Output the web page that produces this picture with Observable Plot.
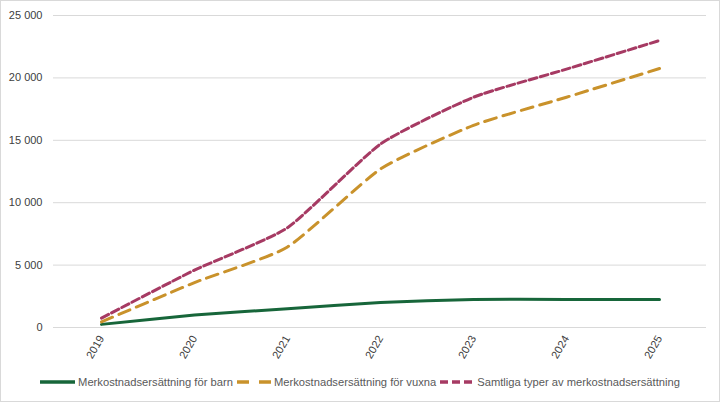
<!DOCTYPE html>
<html>
<head>
<meta charset="utf-8">
<script src="https://cdn.jsdelivr.net/npm/d3@7"></script>
<script src="https://cdn.jsdelivr.net/npm/@observablehq/plot@0.6"></script>
<style>
  html, body { margin: 0; padding: 0; background: #fff; }
  #wrap { position: relative; width: 720px; height: 402px; overflow: hidden; font-family: "Liberation Sans", Arial, sans-serif; }
  #frame { position: absolute; left: 0; top: 0; width: 718px; height: 400px; border: 1px solid #d9d9d9; pointer-events: none; }
  #legend { position: absolute; left: 0; top: 376px; width: 720px; display: flex; justify-content: center; align-items: center; font-size: 11.2px; color: #595959; }
  .item { display: flex; align-items: center; margin: 0 2px; }
  .item svg { margin-right: 3px; }
</style>
</head>
<body>
<div id="wrap">
  <div id="chart"></div>
  <div id="legend"></div>
  <div id="frame"></div>
</div>
<script>
const years = ["2019", "2020", "2021", "2022", "2023", "2024", "2025"];
const barn = [250, 1000, 1500, 2000, 2250, 2250, 2250];
const vuxna = [450, 3600, 6450, 12700, 16200, 18450, 20750];
const samtliga = [750, 4600, 8000, 14700, 18450, 20700, 23000];
const yTicks = [0, 5000, 10000, 15000, 20000, 25000];

const seriesNames = [
  "Merkostnadsersättning för barn",
  "Merkostnadsersättning för vuxna",
  "Samtliga typer av merkostnadsersättning"
];
const seriesValues = [barn, vuxna, samtliga];
const seriesColors = ["#17663a", "#c9922b", "#a63a63"];
const seriesDash = [null, "12,7", "8,3.5"];

const rows = [];
seriesNames.forEach((name, i) => {
  years.forEach((y, j) => rows.push({series: name, year: y, value: seriesValues[i][j]}));
});

const locale = d3.formatLocale({decimal: ",", thousands: "\u00a0", grouping: [3]});
const fmt = locale.format(",d");

const marks = [
  Plot.ruleY(yTicks, {stroke: "#d9d9d9", strokeWidth: 1}),
  Plot.axisY({ticks: yTicks, tickFormat: fmt, tickSize: 0, tickPadding: 11, label: null, fontSize: 11, color: "#404040"}),
  Plot.axisX({tickSize: 0, tickPadding: 9, tickRotate: -60, label: null, fontSize: 11, color: "#404040"})
];
seriesNames.forEach((name, i) => {
  marks.push(Plot.line(rows.filter(d => d.series === name), {
    x: "year", y: "value",
    stroke: seriesColors[i], strokeWidth: 3,
    strokeDasharray: seriesDash[i] || undefined,
    curve: "cardinal", tension: 0.45
  }));
});

const chart = Plot.plot({
  width: 720,
  height: 370,
  marginLeft: 53,
  marginRight: 14,
  marginTop: 15,
  marginBottom: 43,
  style: {fontFamily: "Liberation Sans, Arial, sans-serif", background: "transparent"},
  x: {type: "point", domain: years, padding: 0.5},
  y: {domain: [0, 25000]},
  marks
});
document.getElementById("chart").appendChild(chart);

const legend = document.getElementById("legend");
seriesNames.forEach((name, i) => {
  const item = document.createElement("div");
  item.className = "item";
  const sw = i === 0 ? 35 : 34;
  item.innerHTML = `<svg width="${sw}" height="10"><line x1="0" x2="${sw}" y1="5" y2="5" stroke="${seriesColors[i]}" stroke-width="3.5" ${seriesDash[i] ? `stroke-dasharray="${i === 1 ? "12,10" : "8,4"}"` : ""}/></svg><span>${name}</span>`;
  legend.appendChild(item);
});
</script>
</body>
</html>
